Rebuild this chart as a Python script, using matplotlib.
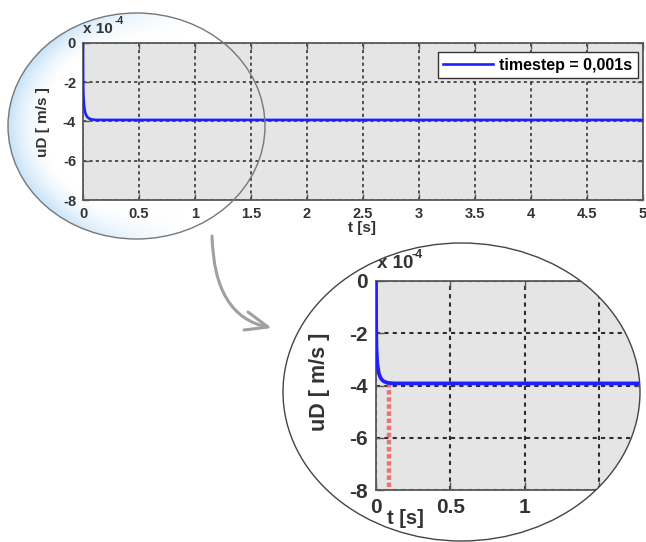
import numpy as np
import matplotlib
matplotlib.use("Agg")
import matplotlib.pyplot as plt
from matplotlib.path import Path
from matplotlib.patches import PathPatch, Ellipse

plt.rcParams['font.family'] = ['Liberation Sans', 'DejaVu Sans']
plt.rcParams['font.weight'] = 'bold'

# Damper velocity uD [m/s] over simulation time t [s]
t_s = [0.0, 0.001, 0.003, 0.006, 0.01, 0.015, 0.02, 0.03, 0.04, 0.05,
       0.06, 0.08, 0.10, 0.12, 0.15, 0.25, 0.5, 1.0, 1.5, 2.0, 2.5,
       3.0, 3.5, 4.0, 4.5, 5.0]
uD = [0.0, -1.7e-4, -2.5e-4, -2.9e-4, -3.2e-4, -3.4e-4, -3.55e-4, -3.7e-4,
      -3.78e-4, -3.83e-4, -3.86e-4, -3.9e-4, -3.91e-4, -3.92e-4, -3.92e-4,
      -3.92e-4, -3.92e-4, -3.92e-4, -3.92e-4, -3.92e-4, -3.92e-4,
      -3.92e-4, -3.92e-4, -3.92e-4, -3.92e-4, -3.92e-4]

# Settling marker drawn in the zoomed view
settle_t = [0.09, 0.09]
settle_u = [-3.92e-4, -8e-4]

legend_label = "timestep = 0,001s"
x_ticks_main = [0, 0.5, 1, 1.5, 2, 2.5, 3, 3.5, 4, 4.5, 5]
x_labels_main = ['0', '0.5', '1', '1.5', '2', '2.5', '3', '3.5', '4', '4.5', '5']
x_ticks_zoom = [0, 0.5, 1, 1.5]
x_labels_zoom = ['0', '0.5', '1', '']
y_ticks = [0, -2, -4, -6, -8]
y_labels = ['0', '-2', '-4', '-6', '-8']
scale = 1e4  # values shown in units of 10^-4

W, H = 646, 542
fig = plt.figure(figsize=(W / 100, H / 100), dpi=100, facecolor='white')


def px_axes(left, top, right, bottom, **kw):
    return fig.add_axes([left / W, 1 - bottom / H, (right - left) / W,
                         (bottom - top) / H], **kw)


def ptext(x, y, s, **kw):
    return fig.text(x / W, 1 - y / H, s, **kw)


# --- lens glow behind the overview plot ---
bg = px_axes(0, 0, W, H, zorder=0)
bg.set_xlim(0, W)
bg.set_ylim(H, 0)
bg.axis('off')
cx1, cy1, rx1, ry1 = 136.5, 126.0, 128.5, 113.0
yy, xx = np.mgrid[0:H, 0:W] + 0.5
r = np.sqrt(((xx - cx1) / rx1) ** 2 + ((yy - cy1) / ry1) ** 2)
depth = (1 - r) * min(rx1, ry1)
glow = np.clip(1 - depth / 32.0, 0, 1) ** 1.6 * (r <= 1)
nx = (xx - cx1) / rx1
weight = np.clip(0.35 - nx, 0, 1)
rgba = np.zeros((H, W, 4))
rgba[..., 0] = 0.72
rgba[..., 1] = 0.86
rgba[..., 2] = 0.97
rgba[..., 3] = glow * weight * 0.8
bg.imshow(rgba, extent=(0, W, H, 0), interpolation='bilinear')

grid_kw = dict(color='#2e2e2e', linestyle=(0, (2.0, 2.0)), linewidth=1.15)


def style_axes(ax, size, tick_len, pad):
    ax.set_facecolor('#e5e5e5')
    ax.set_ylim(-8, 0)
    ax.set_yticks(y_ticks)
    ax.set_yticklabels(y_labels)
    ax.grid(True, **grid_kw)
    ax.tick_params(direction='in', length=tick_len, width=1.0, top=True,
                   right=True, colors='#555555', labelcolor='#333333',
                   labelsize=size, pad=pad)
    for sp in ax.spines.values():
        sp.set_color('#5a5a5a')
        sp.set_linewidth(1.3)


# --- overview plot ---
ax = px_axes(83, 43, 643, 200, zorder=1)
ax.plot(t_s, np.array(uD) * scale, color='#1e1eff', lw=1.9,
        label=legend_label, zorder=3)
ax.set_xlim(0, 5)
ax.set_xticks(x_ticks_main)
ax.set_xticklabels(x_labels_main)
style_axes(ax, 10.5, 4, 5)
leg = ax.legend(loc='upper right', bbox_to_anchor=(638 / W, 1 - 52 / H),
                bbox_transform=fig.transFigure, borderaxespad=0,
                fancybox=False, edgecolor='#333333', framealpha=1,
                prop={'size': 11.5, 'weight': 'bold'}, handlelength=3.1,
                handletextpad=0.4, borderpad=0.35)
leg.get_frame().set_linewidth(1.0)
ptext(362, 228, 't [s]', fontsize=11, color='#333333', ha='center', va='center')
ptext(43, 122, 'uD [ m/s ]', fontsize=11, color='#333333', ha='center',
      va='center', rotation=90)
ptext(83, 29, 'x 10', fontsize=11, color='#333333', ha='left', va='center')
ptext(115, 21, '-4', fontsize=7.5, color='#333333', ha='left', va='center')

# --- zoomed view of the start-up transient ---
ax2 = px_axes(376, 281, 376 + 148.7 * 1.8, 490, zorder=2)
ax2.plot(settle_t, np.array(settle_u) * scale, color='#f25a5a', lw=3.2,
         linestyle=(0, (1, 0.6)), alpha=0.85, zorder=2)
ax2.plot(t_s, np.array(uD) * scale, color='#1e1eff', lw=2.7, zorder=3)
ax2.set_xlim(0, 1.8)
ax2.set_xticks(x_ticks_zoom)
ax2.set_xticklabels(x_labels_zoom)
style_axes(ax2, 15, 6, 6)
for ln in ax2.get_xgridlines() + ax2.get_ygridlines():
    ln.set_linewidth(1.5)
ptext(405, 518, 't [s]', fontsize=14.5, color='#333333', ha='center',
      va='center')
ptext(319, 382, 'uD [ m/s ]', fontsize=15.5, color='#333333', ha='center',
      va='center', rotation=90)
ptext(377, 263, 'x 10', fontsize=13.5, color='#333333', ha='left',
      va='center')
ptext(412, 255, '-4', fontsize=9, color='#333333', ha='left', va='center')

# --- overlay: lens outlines, mask and arrow ---
ov = px_axes(0, 0, W, H, zorder=10)
ov.set_xlim(0, W)
ov.set_ylim(H, 0)
ov.axis('off')
ov.patch.set_alpha(0)

cx2, cy2, rx2, ry2 = 461.5, 392.0, 178.5, 149.0
th = np.linspace(0, 2 * np.pi, 400)
ex = cx2 + rx2 * np.cos(th)
ey = cy2 + ry2 * np.sin(th)
x0, y0, x1, y1 = 276, 239, W + 20, H + 20
rect = [(x0, y0), (x0, y1), (x1, y1), (x1, y0), (x0, y0)]
verts = rect + list(zip(ex, ey))
codes = ([Path.MOVETO] + [Path.LINETO] * 3 + [Path.CLOSEPOLY]
         + [Path.MOVETO] + [Path.LINETO] * (len(ex) - 2) + [Path.CLOSEPOLY])
ov.add_patch(PathPatch(Path(verts, codes), facecolor='white',
                       edgecolor='none', zorder=1))
ov.add_patch(Ellipse((cx2, cy2), 2 * rx2, 2 * ry2, fill=False,
                     edgecolor='#444444', lw=1.0, zorder=2))
ov.add_patch(Ellipse((cx1, cy1), 2 * rx1, 2 * ry1, fill=False,
                     edgecolor='#777777', lw=1.0, zorder=2))

arrow = Path([(212, 236), (214, 316), (267, 327)],
             [Path.MOVETO, Path.CURVE3, Path.CURVE3])
ov.add_patch(PathPatch(arrow, facecolor='none', edgecolor='#a0a0a0',
                       lw=2.2, capstyle='round', zorder=2))
ov.plot([248, 268, 244], [312, 327, 330], color='#a0a0a0', lw=2.2,
        solid_capstyle='round', solid_joinstyle='round', zorder=2)

fig.savefig('out.png', dpi=100, facecolor='white')
